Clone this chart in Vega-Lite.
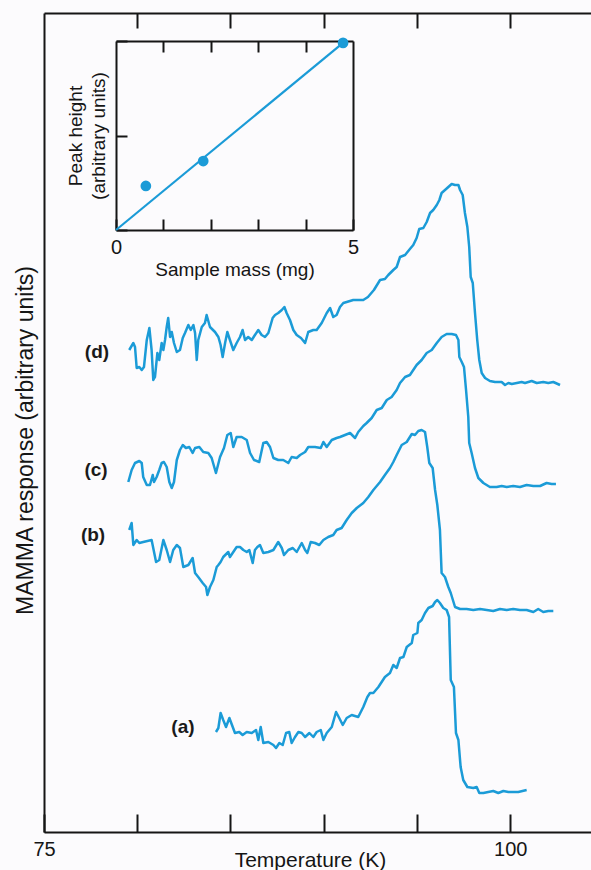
{
  "$schema": "https://vega.github.io/schema/vega-lite/v6.json",
  "width": 547,
  "height": 819,
  "autosize": {"type": "none"},
  "padding": {"left": 44, "top": 13, "right": 0, "bottom": 38},
  "background": "#fcfbfd",
  "config": {
    "view": {"stroke": null},
    "font": "Liberation Sans",
    "axis": {
      "domainColor": "#151515", "tickColor": "#151515", "domainWidth": 2, "tickWidth": 2,
      "labelColor": "#151515", "titleColor": "#151515",
      "labelFont": "Liberation Sans", "titleFont": "Liberation Sans", "titleFontWeight": "normal", "grid": false
    }
  },
  "datasets": {
    "curves": [
      {"c":"d","T":79.57,"r":482},{"c":"d","T":79.79,"r":489},{"c":"d","T":79.88,"r":485},{"c":"d","T":79.97,"r":464},{"c":"d","T":80.11,"r":465},{"c":"d","T":80.24,"r":462},{"c":"d","T":80.36,"r":465},{"c":"d","T":80.51,"r":492},{"c":"d","T":80.65,"r":504},{"c":"d","T":80.77,"r":482},{"c":"d","T":80.86,"r":452},{"c":"d","T":80.95,"r":455},{"c":"d","T":81.08,"r":479},{"c":"d","T":81.18,"r":472},{"c":"d","T":81.31,"r":489},{"c":"d","T":81.40,"r":482},{"c":"d","T":81.49,"r":492},{"c":"d","T":81.58,"r":505},{"c":"d","T":81.66,"r":514},{"c":"d","T":81.76,"r":495},{"c":"d","T":81.85,"r":500},{"c":"d","T":81.97,"r":489},{"c":"d","T":82.12,"r":480},{"c":"d","T":82.29,"r":482},{"c":"d","T":82.44,"r":494},{"c":"d","T":82.56,"r":499},{"c":"d","T":82.74,"r":507},{"c":"d","T":82.87,"r":502},{"c":"d","T":83.01,"r":507},{"c":"d","T":83.10,"r":499},{"c":"d","T":83.19,"r":472},{"c":"d","T":83.27,"r":492},{"c":"d","T":83.46,"r":505},{"c":"d","T":83.63,"r":509},{"c":"d","T":83.72,"r":517},{"c":"d","T":83.90,"r":505},{"c":"d","T":84.17,"r":500},{"c":"d","T":84.35,"r":495},{"c":"d","T":84.47,"r":487},{"c":"d","T":84.58,"r":475},{"c":"d","T":84.71,"r":489},{"c":"d","T":84.83,"r":500},{"c":"d","T":84.97,"r":492},{"c":"d","T":85.15,"r":482},{"c":"d","T":85.33,"r":489},{"c":"d","T":85.51,"r":495},{"c":"d","T":85.65,"r":502},{"c":"d","T":85.78,"r":492},{"c":"d","T":85.95,"r":495},{"c":"d","T":86.14,"r":492},{"c":"d","T":86.31,"r":497},{"c":"d","T":86.49,"r":502},{"c":"d","T":86.67,"r":497},{"c":"d","T":86.85,"r":495},{"c":"d","T":87.03,"r":499},{"c":"d","T":87.26,"r":514},{"c":"d","T":87.39,"r":517},{"c":"d","T":87.56,"r":519},{"c":"d","T":87.75,"r":522},{"c":"d","T":87.89,"r":525},{"c":"d","T":88.01,"r":519},{"c":"d","T":88.19,"r":512},{"c":"d","T":88.37,"r":502},{"c":"d","T":88.55,"r":497},{"c":"d","T":88.78,"r":494},{"c":"d","T":89.00,"r":489},{"c":"d","T":89.17,"r":500},{"c":"d","T":89.44,"r":502},{"c":"d","T":89.62,"r":502},{"c":"d","T":89.89,"r":509},{"c":"d","T":90.16,"r":519},{"c":"d","T":90.34,"r":524},{"c":"d","T":90.51,"r":515},{"c":"d","T":90.69,"r":517},{"c":"d","T":90.87,"r":525},{"c":"d","T":91.05,"r":529},{"c":"d","T":91.23,"r":530},{"c":"d","T":91.58,"r":532},{"c":"d","T":92.12,"r":532},{"c":"d","T":92.37,"r":535},{"c":"d","T":92.69,"r":542},{"c":"d","T":93.02,"r":552},{"c":"d","T":93.28,"r":553},{"c":"d","T":93.46,"r":557},{"c":"d","T":93.73,"r":562},{"c":"d","T":93.91,"r":565},{"c":"d","T":94.09,"r":575},{"c":"d","T":94.36,"r":577},{"c":"d","T":94.62,"r":583},{"c":"d","T":94.80,"r":587},{"c":"d","T":94.98,"r":594},{"c":"d","T":95.12,"r":603},{"c":"d","T":95.34,"r":604},{"c":"d","T":95.52,"r":610},{"c":"d","T":95.70,"r":619},{"c":"d","T":95.87,"r":622},{"c":"d","T":96.06,"r":627},{"c":"d","T":96.20,"r":632},{"c":"d","T":96.32,"r":639},{"c":"d","T":96.50,"r":642},{"c":"d","T":96.68,"r":645},{"c":"d","T":96.86,"r":648},{"c":"d","T":97.04,"r":647},{"c":"d","T":97.22,"r":647},{"c":"d","T":97.31,"r":642},{"c":"d","T":97.45,"r":637},{"c":"d","T":97.57,"r":619},{"c":"d","T":97.70,"r":605},{"c":"d","T":97.80,"r":585},{"c":"d","T":97.88,"r":555},{"c":"d","T":97.99,"r":549},{"c":"d","T":98.11,"r":519},{"c":"d","T":98.23,"r":492},{"c":"d","T":98.34,"r":472},{"c":"d","T":98.47,"r":459},{"c":"d","T":98.65,"r":454},{"c":"d","T":98.91,"r":451},{"c":"d","T":99.18,"r":450},{"c":"d","T":99.54,"r":450},{"c":"d","T":99.72,"r":447},{"c":"d","T":99.90,"r":449},{"c":"d","T":100.08,"r":448},{"c":"d","T":100.35,"r":449},{"c":"d","T":100.61,"r":450},{"c":"d","T":100.79,"r":449},{"c":"d","T":101.15,"r":451},{"c":"d","T":101.42,"r":449},{"c":"d","T":101.77,"r":450},{"c":"d","T":102.04,"r":449},{"c":"d","T":102.31,"r":450},{"c":"d","T":102.67,"r":447},
      {"c":"c","T":79.52,"r":350},{"c":"c","T":79.70,"r":362},{"c":"c","T":79.88,"r":369},{"c":"c","T":80.11,"r":371},{"c":"c","T":80.24,"r":369},{"c":"c","T":80.32,"r":355},{"c":"c","T":80.51,"r":347},{"c":"c","T":80.68,"r":347},{"c":"c","T":80.83,"r":357},{"c":"c","T":80.90,"r":350},{"c":"c","T":81.04,"r":355},{"c":"c","T":81.18,"r":362},{"c":"c","T":81.31,"r":369},{"c":"c","T":81.43,"r":370},{"c":"c","T":81.58,"r":365},{"c":"c","T":81.72,"r":350},{"c":"c","T":81.85,"r":344},{"c":"c","T":81.97,"r":350},{"c":"c","T":82.12,"r":372},{"c":"c","T":82.29,"r":382},{"c":"c","T":82.44,"r":387},{"c":"c","T":82.61,"r":384},{"c":"c","T":82.79,"r":385},{"c":"c","T":82.97,"r":379},{"c":"c","T":83.10,"r":384},{"c":"c","T":83.33,"r":385},{"c":"c","T":83.54,"r":380},{"c":"c","T":83.81,"r":379},{"c":"c","T":83.99,"r":374},{"c":"c","T":84.22,"r":359},{"c":"c","T":84.44,"r":375},{"c":"c","T":84.65,"r":384},{"c":"c","T":84.83,"r":397},{"c":"c","T":85.01,"r":399},{"c":"c","T":85.15,"r":385},{"c":"c","T":85.33,"r":395},{"c":"c","T":85.60,"r":395},{"c":"c","T":85.87,"r":392},{"c":"c","T":86.05,"r":379},{"c":"c","T":86.26,"r":372},{"c":"c","T":86.54,"r":370},{"c":"c","T":86.76,"r":389},{"c":"c","T":86.94,"r":390},{"c":"c","T":87.12,"r":385},{"c":"c","T":87.30,"r":374},{"c":"c","T":87.56,"r":372},{"c":"c","T":87.83,"r":372},{"c":"c","T":88.10,"r":369},{"c":"c","T":88.28,"r":375},{"c":"c","T":88.55,"r":374},{"c":"c","T":88.73,"r":377},{"c":"c","T":89.00,"r":380},{"c":"c","T":89.17,"r":385},{"c":"c","T":89.53,"r":385},{"c":"c","T":89.84,"r":384},{"c":"c","T":89.98,"r":390},{"c":"c","T":90.16,"r":385},{"c":"c","T":90.43,"r":392},{"c":"c","T":90.69,"r":394},{"c":"c","T":90.87,"r":395},{"c":"c","T":91.14,"r":397},{"c":"c","T":91.41,"r":399},{"c":"c","T":91.68,"r":394},{"c":"c","T":91.85,"r":400},{"c":"c","T":92.12,"r":406},{"c":"c","T":92.30,"r":409},{"c":"c","T":92.57,"r":414},{"c":"c","T":92.84,"r":422},{"c":"c","T":93.11,"r":424},{"c":"c","T":93.38,"r":432},{"c":"c","T":93.64,"r":435},{"c":"c","T":93.91,"r":442},{"c":"c","T":94.09,"r":449},{"c":"c","T":94.36,"r":455},{"c":"c","T":94.62,"r":457},{"c":"c","T":94.80,"r":462},{"c":"c","T":94.98,"r":467},{"c":"c","T":95.25,"r":472},{"c":"c","T":95.52,"r":479},{"c":"c","T":95.79,"r":482},{"c":"c","T":96.06,"r":489},{"c":"c","T":96.32,"r":495},{"c":"c","T":96.59,"r":498},{"c":"c","T":96.86,"r":498},{"c":"c","T":97.09,"r":497},{"c":"c","T":97.22,"r":492},{"c":"c","T":97.27,"r":475},{"c":"c","T":97.40,"r":470},{"c":"c","T":97.52,"r":465},{"c":"c","T":97.63,"r":442},{"c":"c","T":97.75,"r":415},{"c":"c","T":97.80,"r":389},{"c":"c","T":97.93,"r":379},{"c":"c","T":98.11,"r":364},{"c":"c","T":98.29,"r":354},{"c":"c","T":98.56,"r":349},{"c":"c","T":98.91,"r":345},{"c":"c","T":99.27,"r":345},{"c":"c","T":99.54,"r":346},{"c":"c","T":99.81,"r":345},{"c":"c","T":100.16,"r":346},{"c":"c","T":100.52,"r":345},{"c":"c","T":100.88,"r":347},{"c":"c","T":101.24,"r":346},{"c":"c","T":101.60,"r":346},{"c":"c","T":101.95,"r":349},{"c":"c","T":102.22,"r":348},{"c":"c","T":102.45,"r":348},
      {"c":"b","T":79.57,"r":302},{"c":"b","T":79.70,"r":309},{"c":"b","T":79.79,"r":287},{"c":"b","T":79.97,"r":292},{"c":"b","T":80.11,"r":289},{"c":"b","T":80.32,"r":290},{"c":"b","T":80.77,"r":292},{"c":"b","T":81.01,"r":270},{"c":"b","T":81.18,"r":272},{"c":"b","T":81.40,"r":292},{"c":"b","T":81.58,"r":282},{"c":"b","T":81.76,"r":270},{"c":"b","T":81.93,"r":282},{"c":"b","T":82.12,"r":287},{"c":"b","T":82.29,"r":284},{"c":"b","T":82.47,"r":265},{"c":"b","T":82.74,"r":267},{"c":"b","T":82.97,"r":274},{"c":"b","T":83.10,"r":259},{"c":"b","T":83.27,"r":255},{"c":"b","T":83.51,"r":249},{"c":"b","T":83.69,"r":245},{"c":"b","T":83.76,"r":237},{"c":"b","T":83.90,"r":245},{"c":"b","T":84.08,"r":252},{"c":"b","T":84.26,"r":265},{"c":"b","T":84.35,"r":267},{"c":"b","T":84.47,"r":270},{"c":"b","T":84.61,"r":275},{"c":"b","T":84.88,"r":280},{"c":"b","T":84.97,"r":275},{"c":"b","T":85.15,"r":280},{"c":"b","T":85.33,"r":285},{"c":"b","T":85.51,"r":285},{"c":"b","T":85.69,"r":282},{"c":"b","T":85.87,"r":280},{"c":"b","T":86.01,"r":282},{"c":"b","T":86.19,"r":269},{"c":"b","T":86.31,"r":282},{"c":"b","T":86.44,"r":285},{"c":"b","T":86.58,"r":287},{"c":"b","T":86.76,"r":279},{"c":"b","T":87.03,"r":280},{"c":"b","T":87.30,"r":282},{"c":"b","T":87.56,"r":290},{"c":"b","T":87.75,"r":284},{"c":"b","T":87.87,"r":277},{"c":"b","T":88.10,"r":282},{"c":"b","T":88.34,"r":284},{"c":"b","T":88.55,"r":280},{"c":"b","T":88.82,"r":289},{"c":"b","T":89.00,"r":282},{"c":"b","T":89.12,"r":279},{"c":"b","T":89.30,"r":290},{"c":"b","T":89.53,"r":289},{"c":"b","T":89.76,"r":287},{"c":"b","T":89.98,"r":292},{"c":"b","T":90.24,"r":295},{"c":"b","T":90.51,"r":297},{"c":"b","T":90.69,"r":302},{"c":"b","T":90.96,"r":304},{"c":"b","T":91.23,"r":312},{"c":"b","T":91.50,"r":319},{"c":"b","T":91.77,"r":324},{"c":"b","T":92.12,"r":329},{"c":"b","T":92.39,"r":335},{"c":"b","T":92.66,"r":342},{"c":"b","T":93.02,"r":350},{"c":"b","T":93.28,"r":357},{"c":"b","T":93.55,"r":364},{"c":"b","T":93.73,"r":370},{"c":"b","T":93.91,"r":377},{"c":"b","T":94.18,"r":387},{"c":"b","T":94.45,"r":390},{"c":"b","T":94.72,"r":398},{"c":"b","T":94.89,"r":397},{"c":"b","T":95.07,"r":401},{"c":"b","T":95.25,"r":402},{"c":"b","T":95.43,"r":400},{"c":"b","T":95.55,"r":385},{"c":"b","T":95.66,"r":369},{"c":"b","T":95.84,"r":364},{"c":"b","T":95.97,"r":342},{"c":"b","T":96.09,"r":327},{"c":"b","T":96.23,"r":302},{"c":"b","T":96.32,"r":259},{"c":"b","T":96.50,"r":255},{"c":"b","T":96.68,"r":245},{"c":"b","T":96.81,"r":239},{"c":"b","T":97.04,"r":225},{"c":"b","T":97.31,"r":223},{"c":"b","T":97.66,"r":223},{"c":"b","T":98.02,"r":222},{"c":"b","T":98.38,"r":223},{"c":"b","T":98.74,"r":222},{"c":"b","T":99.09,"r":221},{"c":"b","T":99.45,"r":223},{"c":"b","T":99.81,"r":222},{"c":"b","T":100.16,"r":223},{"c":"b","T":100.52,"r":222},{"c":"b","T":100.88,"r":222},{"c":"b","T":101.24,"r":220},{"c":"b","T":101.50,"r":223},{"c":"b","T":101.77,"r":220},{"c":"b","T":102.04,"r":221},{"c":"b","T":102.31,"r":221},
      {"c":"a","T":84.22,"r":100},{"c":"a","T":84.35,"r":104},{"c":"a","T":84.47,"r":119},{"c":"a","T":84.61,"r":112},{"c":"a","T":84.76,"r":105},{"c":"a","T":84.94,"r":114},{"c":"a","T":85.12,"r":105},{"c":"a","T":85.24,"r":99},{"c":"a","T":85.47,"r":100},{"c":"a","T":85.65,"r":97},{"c":"a","T":85.87,"r":100},{"c":"a","T":86.14,"r":99},{"c":"a","T":86.37,"r":102},{"c":"a","T":86.49,"r":92},{"c":"a","T":86.62,"r":105},{"c":"a","T":86.76,"r":89},{"c":"a","T":87.03,"r":90},{"c":"a","T":87.30,"r":87},{"c":"a","T":87.44,"r":84},{"c":"a","T":87.62,"r":89},{"c":"a","T":87.80,"r":87},{"c":"a","T":87.98,"r":99},{"c":"a","T":88.15,"r":100},{"c":"a","T":88.28,"r":89},{"c":"a","T":88.46,"r":95},{"c":"a","T":88.64,"r":100},{"c":"a","T":88.82,"r":99},{"c":"a","T":89.00,"r":95},{"c":"a","T":89.23,"r":99},{"c":"a","T":89.44,"r":95},{"c":"a","T":89.62,"r":100},{"c":"a","T":89.84,"r":102},{"c":"a","T":89.98,"r":92},{"c":"a","T":90.16,"r":99},{"c":"a","T":90.43,"r":105},{"c":"a","T":90.66,"r":120},{"c":"a","T":90.83,"r":114},{"c":"a","T":91.02,"r":107},{"c":"a","T":91.23,"r":114},{"c":"a","T":91.50,"r":117},{"c":"a","T":91.85,"r":115},{"c":"a","T":92.12,"r":125},{"c":"a","T":92.34,"r":135},{"c":"a","T":92.48,"r":139},{"c":"a","T":92.66,"r":139},{"c":"a","T":92.93,"r":145},{"c":"a","T":93.28,"r":155},{"c":"a","T":93.55,"r":159},{"c":"a","T":93.73,"r":167},{"c":"a","T":93.91,"r":164},{"c":"a","T":94.09,"r":174},{"c":"a","T":94.27,"r":175},{"c":"a","T":94.45,"r":185},{"c":"a","T":94.72,"r":189},{"c":"a","T":94.80,"r":197},{"c":"a","T":95.02,"r":199},{"c":"a","T":95.07,"r":209},{"c":"a","T":95.25,"r":212},{"c":"a","T":95.43,"r":219},{"c":"a","T":95.61,"r":224},{"c":"a","T":95.84,"r":226},{"c":"a","T":95.97,"r":230},{"c":"a","T":96.09,"r":232},{"c":"a","T":96.23,"r":229},{"c":"a","T":96.41,"r":224},{"c":"a","T":96.59,"r":222},{"c":"a","T":96.72,"r":215},{"c":"a","T":96.81,"r":152},{"c":"a","T":96.98,"r":145},{"c":"a","T":97.09,"r":99},{"c":"a","T":97.22,"r":92},{"c":"a","T":97.34,"r":65},{"c":"a","T":97.48,"r":52},{"c":"a","T":97.70,"r":45},{"c":"a","T":98.02,"r":44},{"c":"a","T":98.20,"r":45},{"c":"a","T":98.34,"r":39},{"c":"a","T":98.56,"r":39},{"c":"a","T":98.82,"r":40},{"c":"a","T":99.09,"r":41},{"c":"a","T":99.36,"r":39},{"c":"a","T":99.63,"r":41},{"c":"a","T":99.90,"r":40},{"c":"a","T":100.16,"r":40},{"c":"a","T":100.43,"r":40},{"c":"a","T":100.88,"r":42}
    ],
    "labels": [
      {"label": "(d)", "T": 77.84, "r": 480},
      {"label": "(c)", "T": 77.79, "r": 362},
      {"label": "(b)", "T": 77.63, "r": 297},
      {"label": "(a)", "T": 82.45, "r": 105}
    ],
    "inset": [
      {"m": 0.63, "h": 0.233},
      {"m": 1.84, "h": 0.365},
      {"m": 4.79, "h": 0.99}
    ],
    "fit": [
      {"m": 0, "h": 0},
      {"m": 4.79, "h": 0.99}
    ]
  },
  "layer": [
    {
      "layer": [
        {
          "data": {"name": "curves"},
          "mark": {"type": "line", "color": "#1b9bd7", "strokeWidth": 2.5, "strokeJoin": "round", "clip": false},
          "encoding": {
            "x": {"field": "T", "type": "quantitative",
              "scale": {"domain": [75, 104.33], "nice": false, "zero": false},
              "axis": {"orient": "bottom", "values": [75, 80, 85, 90, 95, 100], "tickSize": -18,
                "labelExpr": "datum.value == 75 || datum.value == 100 ? datum.label : ''",
                "labelFontSize": 20, "labelPadding": 25, "labelFlush": false,
                "title": "Temperature (K)", "titleFontSize": 21, "titleX": 266, "titleY": 34, "titleBaseline": "alphabetic"}},
            "y": {"field": "r", "type": "quantitative",
              "scale": {"domain": [0, 819], "nice": false, "zero": false},
              "axis": {"orient": "left", "ticks": false, "labels": false,
                "title": "MAMMA response (arbitrary units)", "titleFontSize": 23, "titleX": -19, "titleY": 427, "titleBaseline": "middle", "titleAngle": -90}},
            "detail": {"field": "c"}
          }
        },
        {
          "data": {"name": "labels"},
          "mark": {"type": "text", "fontWeight": "bold", "fontSize": 19, "color": "#1a1a1a", "font": "Liberation Sans"},
          "encoding": {
            "x": {"field": "T", "type": "quantitative"},
            "y": {"field": "r", "type": "quantitative"},
            "text": {"field": "label"}
          }
        }
      ]
    },
    {
      "data": {"name": "labels"},
      "mark": {"type": "point", "opacity": 0},
      "encoding": {
        "x": {"field": "T", "type": "quantitative",
          "scale": {"domain": [75, 104.33], "nice": false, "zero": false},
          "axis": {"orient": "top", "values": [80, 85, 90, 95, 100], "tickSize": -15, "labels": false, "title": null}}
      }
    },
    {
      "layer": [
        {
          "data": {"name": "fit"},
          "mark": {"type": "line", "color": "#1b9bd7", "strokeWidth": 2.2},
          "encoding": {
            "x": {"field": "m", "type": "quantitative",
              "scale": {"domain": [0, 5], "range": [72, 309], "nice": false, "zero": false},
              "axis": {"orient": "bottom", "offset": -602, "values": [0, 1, 2, 3, 4, 5], "ticks": true, "tickSize": -11,
                "format": "d",
                "labelExpr": "datum.value == 0 || datum.value == 5 ? datum.label : ''",
                "labelFontSize": 20, "labelPadding": 18, "labelFlush": false,
                "title": "Sample mass (mg)", "titleFontSize": 19, "titlePadding": 3}},
            "y": {"field": "h", "type": "quantitative",
              "scale": {"domain": [0, 1], "range": [217, 28], "nice": false, "zero": false},
              "axis": {"orient": "left", "offset": -72, "values": [0, 0.5, 1], "ticks": true, "tickSize": -11, "labels": false,
                "title": ["Peak height", "(arbitrary units)"], "titleFontSize": 19, "titleLineHeight": 23,
                "titleX": -50, "titleBaseline": "top", "titleAngle": -90}}
          }
        },
        {
          "data": {"name": "inset"},
          "mark": {"type": "point", "filled": true, "opacity": 1, "color": "#1b9bd7", "size": 115},
          "encoding": {
            "x": {"field": "m", "type": "quantitative"},
            "y": {"field": "h", "type": "quantitative"}
          }
        }
      ]
    },
    {
      "data": {"name": "inset"},
      "mark": {"type": "point", "opacity": 0},
      "encoding": {
        "x": {"field": "m", "type": "quantitative",
          "scale": {"domain": [0, 5], "range": [72, 309], "nice": false, "zero": false},
          "axis": {"orient": "top", "offset": -28, "values": [1, 2, 3, 4], "ticks": true, "tickSize": -11, "labels": false, "title": null}},
        "y": {"field": "h", "type": "quantitative",
          "scale": {"domain": [0, 1], "range": [217, 28], "nice": false, "zero": false},
          "axis": {"orient": "right", "offset": -238, "ticks": false, "labels": false, "title": null}}
      }
    }
  ],
  "resolve": {"scale": {"x": "independent", "y": "independent"}, "axis": {"x": "independent", "y": "independent"}}
}
